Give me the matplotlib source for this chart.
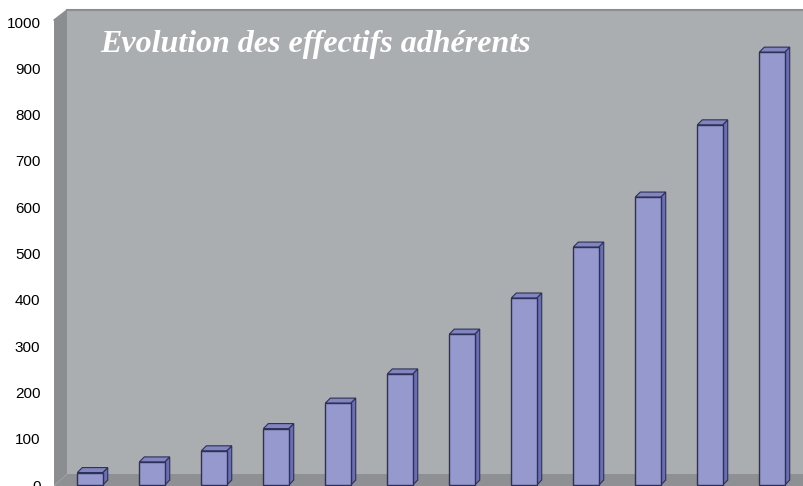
import matplotlib
matplotlib.use("Agg")
from matplotlib import pyplot as plt
from matplotlib.patches import Polygon

# Data
years = list(range(1, 13))
adherents = [27, 50, 74, 122, 177, 240, 326, 404, 514, 622, 778, 935]
y_ticks = [0, 100, 200, 300, 400, 500, 600, 700, 800, 900, 1000]
title = "Evolution des effectifs adhérents"

W, H = 804, 486
fig = plt.figure(figsize=(W / 100, H / 100), dpi=100)
fig.patch.set_facecolor("white")

# Background "3D" walls drawn in pixel space
bg = fig.add_axes([0, 0, 1, 1])
bg.set_xlim(0, W)
bg.set_ylim(H, 0)
bg.axis("off")
back_wall = Polygon([(67, 10), (W, 10), (W, 474), (67, 474)], closed=True,
                    facecolor="#abaeb1", edgecolor="none")
left_wall = Polygon([(54, 20), (67, 10), (67, 474), (54, 486)], closed=True,
                    facecolor="#8b8d91", edgecolor="none")
floor = Polygon([(67, 474), (W, 474), (W, 486), (54, 486)], closed=True,
                facecolor="#8e9093", edgecolor="none")
for p in (back_wall, left_wall, floor):
    bg.add_patch(p)
bg.plot([67, W], [10, 10], color="#8c8e92", lw=1.5)
bg.plot([54, 67], [20, 10], color="#8c8e92", lw=1.0)

# Data axes on top
ax = fig.add_axes([55 / W, 0, 1 - 55 / W, 476 / H])
ax.patch.set_alpha(0)
ax.set_xlim(-0.565, 11.516)
ax.set_ylim(-2, 1026)
for s in ax.spines.values():
    s.set_visible(False)
ax.set_xticks([])
ax.set_yticks(y_ticks)
ax.set_yticklabels([str(t) for t in y_ticks], fontsize=11,
                   fontfamily="Liberation Sans", color="black")
ax.tick_params(axis="y", length=0, pad=10.5)

xs = [i for i in range(len(years))]
w = 0.41
dx = 5 / 62
dy = 5 / 0.463
edge = "#2e3055"

for x, v in zip(xs, adherents):
    side = Polygon([(x + w / 2, 0), (x + w / 2 + dx, dy), (x + w / 2 + dx, v + dy), (x + w / 2, v)],
                   closed=True, facecolor="#6a6eb2", edgecolor=edge, lw=0.8, zorder=2)
    top = Polygon([(x - w / 2, v), (x + w / 2, v), (x + w / 2 + dx, v + dy), (x - w / 2 + dx, v + dy)],
                  closed=True, facecolor="#8185c3", edgecolor=edge, lw=0.8, zorder=2)
    ax.add_patch(side)
    ax.add_patch(top)

ax.bar(xs, adherents, width=w, color="#9599cd", edgecolor=edge, linewidth=1.0, zorder=3)

fig.text(100 / W, 1 - 52 / H, title, color="white", fontsize=23,
         fontfamily="Liberation Serif", fontweight="bold", fontstyle="italic",
         ha="left", va="baseline")

fig.savefig("out.png", dpi=100)
